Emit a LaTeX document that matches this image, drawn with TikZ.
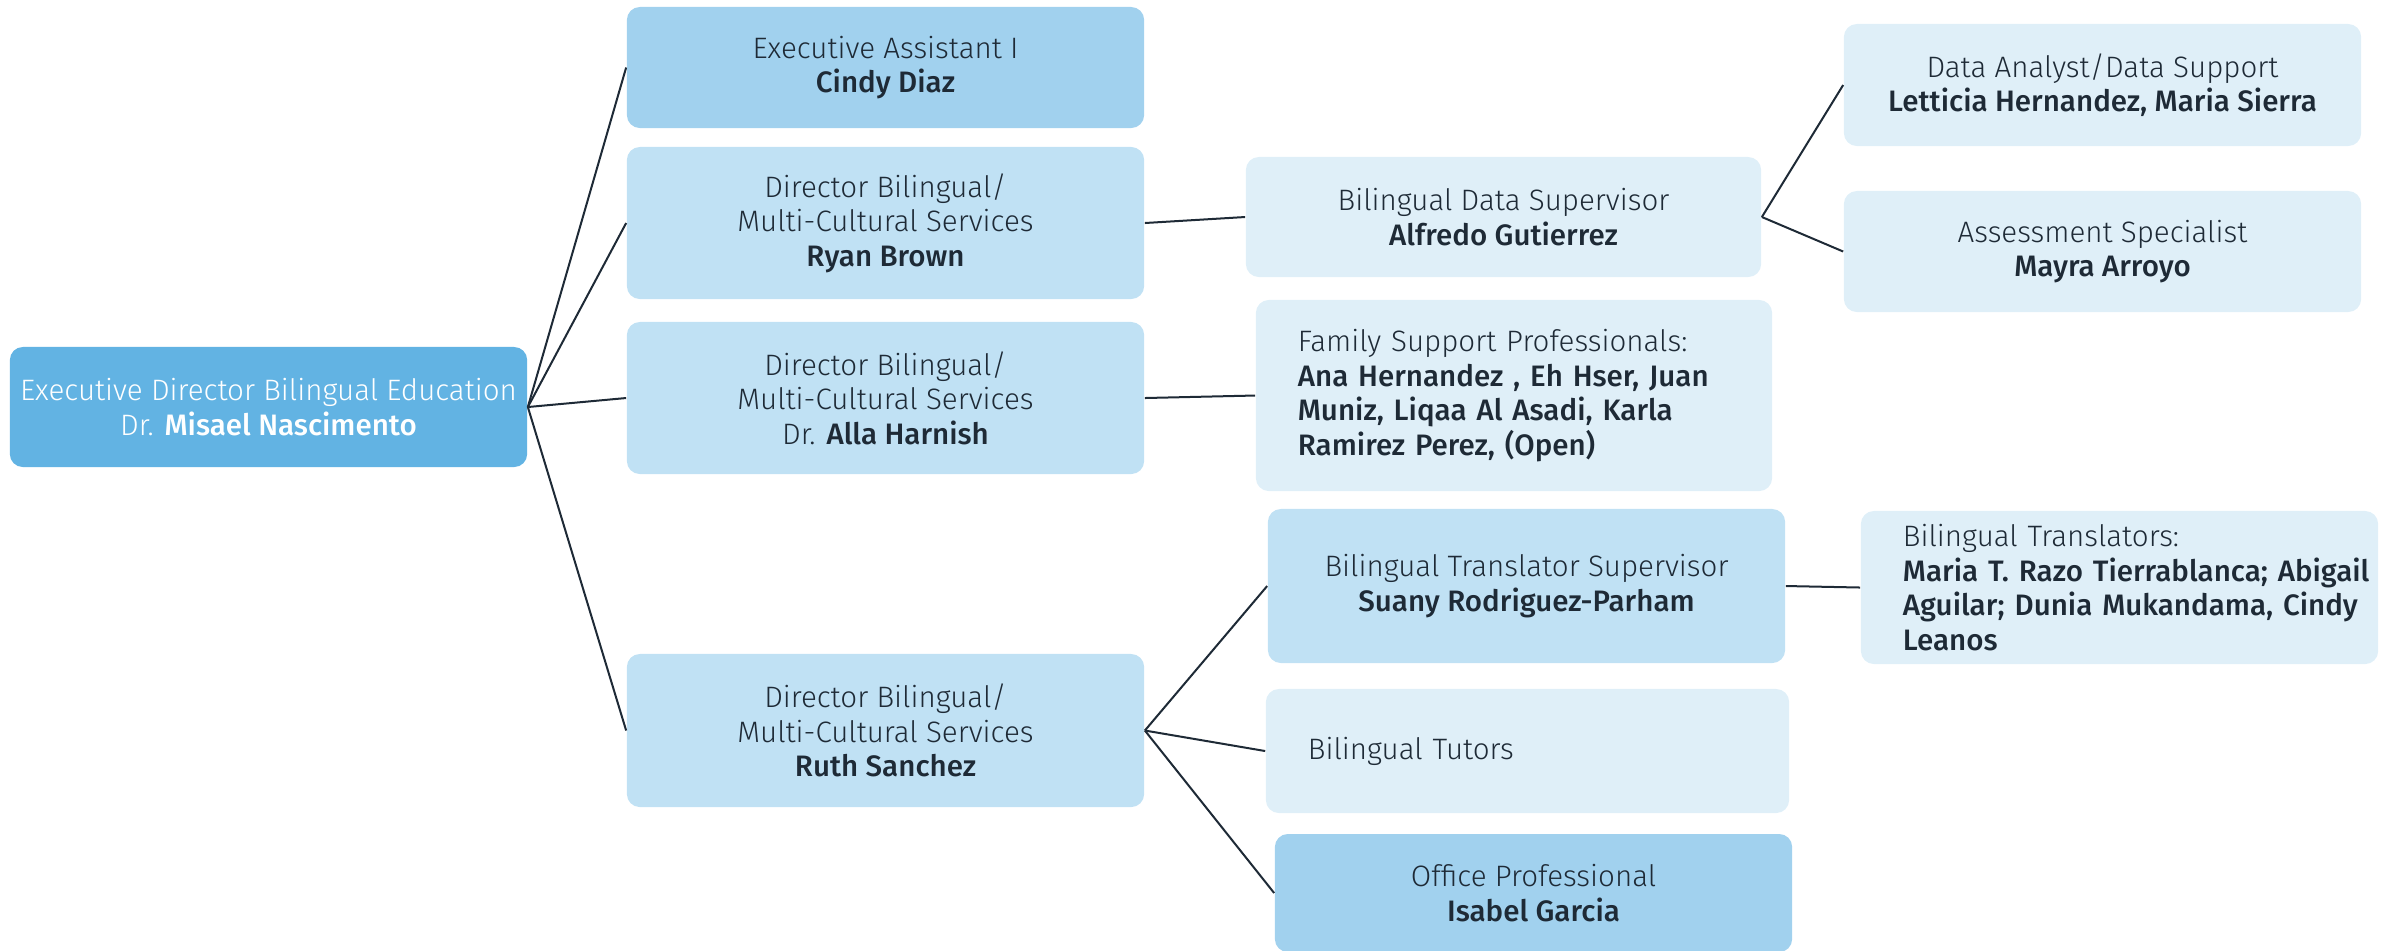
\documentclass[tikz,border=0pt]{standalone}
\usepackage{fontspec}
\IfFontExistsTF{Fira Sans Light}
	{\setmainfont{Fira Sans Light}[BoldFont={Fira Sans Medium}]}
	{\setmainfont{Fira Sans}}
\definecolor{ink}{HTML}{1E2A36}
\definecolor{rootblue}{HTML}{62B3E3}
\definecolor{assistblue}{HTML}{A1D1EE}
\definecolor{dirblue}{HTML}{C0E1F4}
\definecolor{paleblue}{HTML}{DFEFF8}
\begin{document}
\begin{tikzpicture}[
			x=0.01cm, y=-0.01cm,
			box/.style={rounded corners=0.13cm, align=center, text=ink, inner sep=0pt,
					font={\fontsize{8.4pt}{9.8pt}\selectfont}},
			leftbox/.style={box, fill=paleblue, align=left, inner xsep=0.42cm},
			topbox/.style={box, fill=rootblue, text=white},
			assistbox/.style={box, fill=assistblue},
			dirbox/.style={box, fill=dirblue},
			palebox/.style={box, fill=paleblue},
			link/.style={draw=ink, line width=0.02cm}
		]
		\useasboundingbox (0,0) rectangle (2395,950);
		\node[topbox, minimum width=5.17cm, minimum height=1.2cm] (root) at (268.5,407)
			{Executive Director Bilingual Education\\Dr. \textbf{Misael Nascimento}};
		\node[assistbox, minimum width=5.17cm, minimum height=1.21cm] (assist) at (885.5,67.5)
			{Executive Assistant I\\\textbf{Cindy Diaz}};
		\node[dirbox, minimum width=5.17cm, minimum height=1.52cm] (ryan) at (885.5,223)
			{Director Bilingual/\\Multi-Cultural Services\\\textbf{Ryan Brown}};
		\node[dirbox, minimum width=5.17cm, minimum height=1.52cm] (alla) at (885.5,398)
			{Director Bilingual/\\Multi-Cultural Services\\Dr. \textbf{Alla Harnish}};
		\node[dirbox, minimum width=5.17cm, minimum height=1.53cm] (ruth) at (885.5,730.5)
			{Director Bilingual/\\Multi-Cultural Services\\\textbf{Ruth Sanchez}};
		\node[palebox, minimum width=5.15cm, minimum height=1.2cm] (datasup) at (1503.5,217)
			{Bilingual Data Supervisor\\\textbf{Alfredo Gutierrez}};
		\node[palebox, minimum width=5.17cm, minimum height=1.22cm] (analyst) at (2102.5,85)
			{Data Analyst/Data Support\\\textbf{Letticia Hernandez, Maria Sierra}};
		\node[palebox, minimum width=5.17cm, minimum height=1.21cm] (assess) at (2102.5,251.5)
			{Assessment Specialist\\\textbf{Mayra Arroyo}};
		\node[leftbox, text width=4.32cm, minimum height=1.91cm] (family) at (1514,395.5)
			{Family Support Professionals:\\\mbox{\textbf{Ana Hernandez , Eh Hser, Juan}}\\
			\mbox{\textbf{Muniz, Liqaa Al Asadi, Karla}}\\\mbox{\textbf{Ramirez Perez, (Open)}}};
		\node[dirbox, minimum width=5.17cm, minimum height=1.54cm] (transsup) at (1526.5,586)
			{Bilingual Translator Supervisor\\\textbf{Suany Rodriguez-Parham}};
		\node[leftbox, text width=4.33cm, minimum height=1.53cm] (translators) at (2119.5,587.5)
			{Bilingual Translators:\\\mbox{\textbf{Maria T. Razo Tierrablanca; Abigail}}\\
			\mbox{\textbf{Aguilar; Dunia Mukandama, Cindy}}\\\mbox{\textbf{Leanos}}};
		\node[leftbox, text width=4.39cm, minimum height=1.24cm] (tutors) at (1527.5,751)
			{Bilingual Tutors};
		\node[assistbox, minimum width=5.17cm, minimum height=1.18cm] (office) at (1533.5,893)
			{Office Professional\\\textbf{Isabel Garcia}};
		\draw[link] (root.east) -- (assist.west);
		\draw[link] (root.east) -- (ryan.west);
		\draw[link] (root.east) -- (alla.west);
		\draw[link] (root.east) -- (ruth.west);
		\draw[link] (ryan.east) -- (datasup.west);
		\draw[link] (datasup.east) -- (analyst.west);
		\draw[link] (datasup.east) -- (assess.west);
		\draw[link] (alla.east) -- (family.west);
		\draw[link] (ruth.east) -- (transsup.west);
		\draw[link] (ruth.east) -- (tutors.west);
		\draw[link] (ruth.east) -- (office.west);
		\draw[link] (transsup.east) -- (translators.west);
	\end{tikzpicture}
\end{document}
